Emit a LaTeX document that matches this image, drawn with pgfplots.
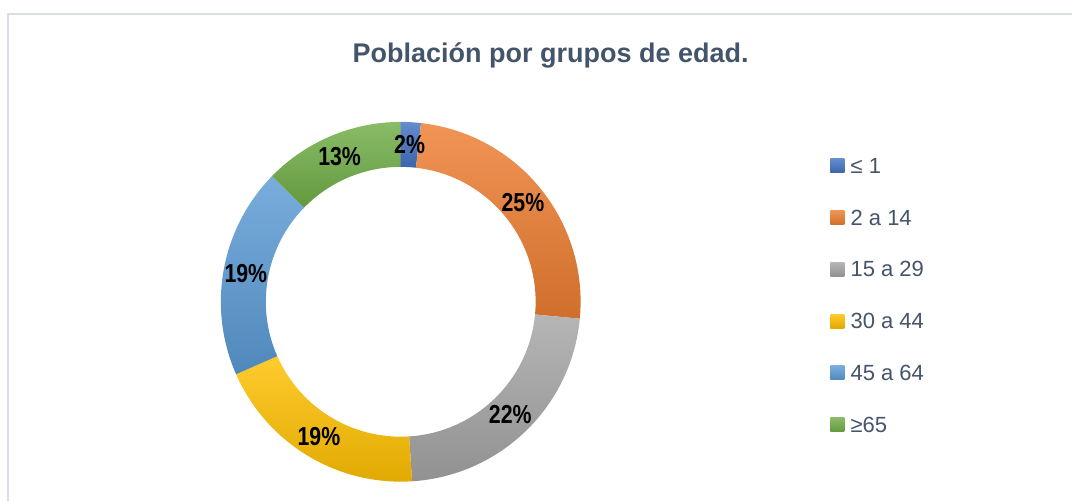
\documentclass[border=0pt]{standalone}
\usepackage{pgfplots}
\pgfplotsset{compat=1.18}
\usepackage{pgfplotstable}
\usepackage{fontspec}
\setmainfont{Liberation Sans}
\newfontfamily\labelfont[FakeStretch=0.82]{Liberation Sans}

\definecolor{c1}{HTML}{4472C4}
\definecolor{c2}{HTML}{ED7D31}
\definecolor{c3}{HTML}{A5A5A5}
\definecolor{c4}{HTML}{FFC000}
\definecolor{c5}{HTML}{5B9BD5}
\definecolor{c6}{HTML}{70AD47}
\definecolor{titlecol}{HTML}{44546A}
\definecolor{framecol}{HTML}{D9DEE4}

% share of each age group (percent), printed label, colour
\pgfplotstableread[col sep=comma]{
group,value,pct,col
≤ 1,1.8,2,c1
2 a 14,24.7,25,c2
15 a 29,22.5,22,c3
30 a 44,19.4,19,c4
45 a 64,18.9,19,c5
≥65,12.7,13,c6
}\agedata

\begin{document}
\begin{tikzpicture}
\begin{axis}[
    at={(0,0)}, anchor=south west,
    x=1bp, y=1bp,
    xmin=0, xmax=1073,
    ymin=0, ymax=501,
    hide axis,
    clip=false,
]
\pgfplotsextra{
  % page area
  \path (axis cs:0,0) rectangle (axis cs:1073,501);
  % frame
  \draw[framecol, line width=1.5bp] (axis cs:8,0) -- (axis cs:8,487) -- (axis cs:1073,487);
  % title
  \node[anchor=base, inner sep=0pt, text=titlecol,
        font=\bfseries\fontsize{27bp}{32bp}\selectfont]
        at (axis cs:551,438) {Población por grupos de edad.};
  \coordinate (c) at (axis cs:401,199);
  % slices and legend
  \gdef\cum{0}
  \foreach \i in {0,...,5}{
    \pgfplotstablegetelem{\i}{value}\of\agedata \let\val\pgfplotsretval
    \pgfplotstablegetelem{\i}{col}\of\agedata \let\cl\pgfplotsretval
    \pgfplotstablegetelem{\i}{group}\of\agedata \let\gr\pgfplotsretval
    \pgfmathsetmacro\aa{90-3.6*\cum}
    \pgfmathsetmacro\ab{90-3.6*(\cum+\val)}
    \shade[top color=\cl!82!white, bottom color=\cl!88!black]
      ([shift={(\aa:180bp)}]c) arc[start angle=\aa, end angle=\ab, radius=180bp]
      -- ([shift={(\ab:135bp)}]c) arc[start angle=\ab, end angle=\aa, radius=135bp] -- cycle;
    \pgfmathsetmacro\ly{501-166-51.8*\i}
    \shade[top color=\cl!82!white, bottom color=\cl!88!black]
      (axis cs:831,\ly) ++(0,-7bp) rectangle ++(14bp,14bp);
    \node[anchor=west, inner sep=0pt, text=titlecol, font=\fontsize{22bp}{26bp}\selectfont]
      at (axis cs:851,\ly) {\gr};
    \pgfmathsetmacro\newcum{\cum+\val}
    \xdef\cum{\newcum}
  }
  % data labels on top
  \gdef\cum{0}
  \foreach \i in {0,...,5}{
    \pgfplotstablegetelem{\i}{value}\of\agedata \let\val\pgfplotsretval
    \pgfplotstablegetelem{\i}{pct}\of\agedata \let\pc\pgfplotsretval
    \pgfmathsetmacro\am{90-3.6*(\cum+\val/2)}
    \node[font=\labelfont\bfseries\fontsize{26bp}{30bp}\selectfont, inner sep=0pt]
      at ([shift={(\am:157.5bp)}]c) {\pc\%};
    \pgfmathsetmacro\newcum{\cum+\val}
    \xdef\cum{\newcum}
  }
}
\end{axis}
\end{tikzpicture}
\end{document}
